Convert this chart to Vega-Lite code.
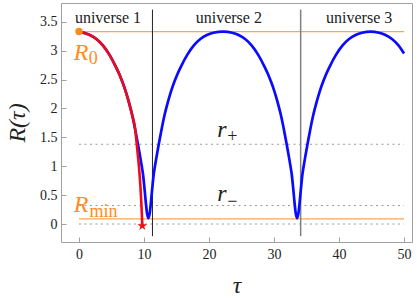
{
  "$schema": "https://vega.github.io/schema/vega-lite/v6.json",
  "width": 351,
  "height": 239,
  "autosize": "none",
  "padding": {"left": 61, "top": 3, "right": 5, "bottom": 56},
  "config": {
    "view": {"stroke": "#a0a0a0", "strokeWidth": 1},
    "font": "Liberation Serif, serif"
  },
  "datasets": {
    "blue": [
      {"tau": 0, "R": 3.33}, {"tau": 0.67, "R": 3.31}, {"tau": 1.67, "R": 3.27}, {"tau": 2.67, "R": 3.2}, {"tau": 3.67, "R": 3.09},
      {"tau": 4.67, "R": 2.93}, {"tau": 5.67, "R": 2.72}, {"tau": 6.17, "R": 2.6}, {"tau": 6.67, "R": 2.46}, {"tau": 7.17, "R": 2.3},
      {"tau": 7.67, "R": 2.11}, {"tau": 8.17, "R": 1.89}, {"tau": 8.67, "R": 1.62}, {"tau": 9.07, "R": 1.38}, {"tau": 9.37, "R": 1.19},
      {"tau": 9.67, "R": 0.99}, {"tau": 9.87, "R": 0.84}, {"tau": 10.07, "R": 0.62}, {"tau": 10.27, "R": 0.38}, {"tau": 10.47, "R": 0.18},
      {"tau": 10.67, "R": 0.1},
      {"tau": 10.87, "R": 0.18}, {"tau": 11.07, "R": 0.38}, {"tau": 11.27, "R": 0.62}, {"tau": 11.47, "R": 0.84}, {"tau": 11.67, "R": 0.99},
      {"tau": 11.97, "R": 1.19}, {"tau": 12.27, "R": 1.38}, {"tau": 12.67, "R": 1.62}, {"tau": 13.17, "R": 1.89}, {"tau": 13.67, "R": 2.11},
      {"tau": 14.17, "R": 2.3}, {"tau": 14.67, "R": 2.46}, {"tau": 15.17, "R": 2.6}, {"tau": 15.67, "R": 2.72}, {"tau": 16.67, "R": 2.93},
      {"tau": 17.67, "R": 3.09}, {"tau": 18.67, "R": 3.2}, {"tau": 19.67, "R": 3.27}, {"tau": 20.67, "R": 3.31}, {"tau": 22.2, "R": 3.33},
      {"tau": 23.55, "R": 3.31}, {"tau": 24.55, "R": 3.27}, {"tau": 25.55, "R": 3.2}, {"tau": 26.55, "R": 3.09}, {"tau": 27.55, "R": 2.93},
      {"tau": 28.55, "R": 2.72}, {"tau": 29.05, "R": 2.6}, {"tau": 29.55, "R": 2.46}, {"tau": 30.05, "R": 2.3}, {"tau": 30.55, "R": 2.11},
      {"tau": 31.05, "R": 1.89}, {"tau": 31.55, "R": 1.62}, {"tau": 31.95, "R": 1.38}, {"tau": 32.25, "R": 1.19}, {"tau": 32.55, "R": 0.99},
      {"tau": 32.75, "R": 0.84}, {"tau": 32.95, "R": 0.62}, {"tau": 33.15, "R": 0.38}, {"tau": 33.35, "R": 0.18}, {"tau": 33.55, "R": 0.1},
      {"tau": 33.75, "R": 0.18}, {"tau": 33.95, "R": 0.38}, {"tau": 34.15, "R": 0.62}, {"tau": 34.35, "R": 0.84}, {"tau": 34.55, "R": 0.99},
      {"tau": 34.85, "R": 1.19}, {"tau": 35.15, "R": 1.38}, {"tau": 35.55, "R": 1.62}, {"tau": 36.05, "R": 1.89}, {"tau": 36.55, "R": 2.11},
      {"tau": 37.05, "R": 2.3}, {"tau": 37.55, "R": 2.46}, {"tau": 38.05, "R": 2.6}, {"tau": 38.55, "R": 2.72}, {"tau": 39.55, "R": 2.93},
      {"tau": 40.55, "R": 3.09}, {"tau": 41.55, "R": 3.2}, {"tau": 42.55, "R": 3.27}, {"tau": 43.55, "R": 3.31}, {"tau": 44.85, "R": 3.33},
      {"tau": 46.15, "R": 3.31}, {"tau": 47.15, "R": 3.27}, {"tau": 48.15, "R": 3.2}, {"tau": 49.15, "R": 3.09}, {"tau": 50, "R": 2.95}
    ],
    "red": [
      {"tau": 0, "R": 3.33}, {"tau": 0.67, "R": 3.31}, {"tau": 1.67, "R": 3.27}, {"tau": 2.67, "R": 3.2}, {"tau": 3.67, "R": 3.09},
      {"tau": 4.67, "R": 2.93}, {"tau": 5.67, "R": 2.72}, {"tau": 6.17, "R": 2.6}, {"tau": 6.67, "R": 2.46}, {"tau": 7.17, "R": 2.3},
      {"tau": 7.67, "R": 2.11}, {"tau": 8.17, "R": 1.89}, {"tau": 8.67, "R": 1.62}, {"tau": 8.87, "R": 1.4}, {"tau": 9.07, "R": 1.17},
      {"tau": 9.27, "R": 0.93}, {"tau": 9.45, "R": 0.65}, {"tau": 9.58, "R": 0.38}, {"tau": 9.68, "R": 0.15}, {"tau": 9.74, "R": -0.03}
    ],
    "hgray": [
      {"tau": 0, "tau2": 50, "R": 1.38},
      {"tau": 0, "tau2": 50, "R": 0.32},
      {"tau": 0, "tau2": 50, "R": 0}
    ],
    "horange": [
      {"tau": 0, "tau2": 50, "R": 3.33},
      {"tau": 0, "tau2": 50, "R": 0.09}
    ],
    "vblack": [{"tau": 11.3, "R": -0.21, "R2": 3.71}],
    "vgray": [{"tau": 34.1, "R": -0.21, "R2": 3.71}],
    "dot": [{"tau": 0, "R": 3.33}],
    "star": [{"tau": 9.74, "R": -0.03}],
    "universe": [
      {"tau": 4.46, "R": 3.48, "label": "universe 1"},
      {"tau": 23.05, "R": 3.48, "label": "universe 2"},
      {"tau": 43.1, "R": 3.48, "label": "universe 3"}
    ],
    "bigItalicOrange": [
      {"tau": 0.3, "R": 2.84, "label": "R"},
      {"tau": 0.3, "R": 0.2, "label": "R"}
    ],
    "subOrange": [
      {"tau": 2.2, "R": 2.76, "label": "0"},
      {"tau": 3.75, "R": 0.12, "label": "min"}
    ],
    "bigItalicBlack": [
      {"tau": 22.0, "R": 1.51, "label": "r"},
      {"tau": 22.0, "R": 0.39, "label": "r"}
    ],
    "subBlack": [
      {"tau": 23.6, "R": 1.42, "label": "+"},
      {"tau": 23.6, "R": 0.3, "label": "−"}
    ]
  },
  "encoding": {
    "x": {
      "field": "tau", "type": "quantitative", "title": "τ",
      "scale": {"domain": [-2.77, 51.23], "nice": false, "zero": false},
      "axis": {"values": [0, 10, 20, 30, 40, 50], "grid": false, "domain": false, "tickSize": -5, "tickColor": "#a0a0a0",
        "labelFontSize": 14, "labelColor": "#222", "labelPadding": 10, "labelFont": "Liberation Serif, serif",
        "titleFont": "Liberation Serif, serif", "titleFontStyle": "italic", "titleFontWeight": "normal", "titleFontSize": 24, "titleColor": "#222", "titlePadding": 12}
    },
    "y": {
      "field": "R", "type": "quantitative", "title": "R(τ)",
      "scale": {"domain": [-0.311, 3.824], "nice": false, "zero": false},
      "axis": {"values": [0, 0.5, 1, 1.5, 2, 2.5, 3, 3.5], "format": "~g", "grid": false, "domain": false, "tickSize": -5, "tickColor": "#a0a0a0",
        "labelFontSize": 14, "labelColor": "#222", "labelPadding": 9, "labelFont": "Liberation Serif, serif",
        "titleFont": "Liberation Serif, serif", "titleFontStyle": "italic", "titleFontWeight": "normal", "titleFontSize": 24, "titleColor": "#222", "titlePadding": 10}
    }
  },
  "layer": [
    {"data": {"name": "hgray"}, "mark": {"type": "rule", "color": "#9a9a9a", "strokeWidth": 1, "strokeDash": [2, 3.5]},
      "encoding": {"x2": {"field": "tau2"}}},
    {"data": {"name": "horange"}, "mark": {"type": "rule", "color": "#ffa54a", "strokeWidth": 1.3},
      "encoding": {"x2": {"field": "tau2"}}},
    {"data": {"name": "vblack"}, "mark": {"type": "rule", "color": "#222222", "strokeWidth": 1},
      "encoding": {"y2": {"field": "R2"}}},
    {"data": {"name": "vgray"}, "mark": {"type": "rule", "color": "#808080", "strokeWidth": 1.5},
      "encoding": {"y2": {"field": "R2"}}},
    {"data": {"name": "blue"}, "mark": {"type": "line", "color": "#0a0aff", "strokeWidth": 2.7, "interpolate": "monotone"}, "encoding": {"order": {"field": "tau"}}},
    {"data": {"name": "red"}, "mark": {"type": "line", "color": "#ee0a1a", "strokeWidth": 2.6, "interpolate": "monotone"}, "encoding": {"order": {"field": "tau"}}},
    {"data": {"name": "dot"}, "mark": {"type": "point", "shape": "circle", "filled": true, "color": "#ff8c1a", "size": 55, "opacity": 1}},
    {"data": {"name": "star"}, "mark": {"type": "point", "filled": true, "color": "#ee1111", "opacity": 1, "size": 110,
      "shape": "M0,-1L0.2245,-0.309L0.9511,-0.309L0.3633,0.118L0.5878,0.809L0,0.382L-0.5878,0.809L-0.3633,0.118L-0.9511,-0.309L-0.2245,-0.309Z"}},
    {"data": {"name": "universe"}, "mark": {"type": "text", "align": "center", "baseline": "alphabetic", "fontSize": 16, "color": "#222", "font": "Liberation Serif, serif"},
      "encoding": {"text": {"field": "label"}}},
    {"data": {"name": "bigItalicOrange"}, "mark": {"type": "text", "align": "center", "baseline": "alphabetic", "fontSize": 24, "fontStyle": "italic", "color": "#ff8c1a", "font": "Liberation Serif, serif"},
      "encoding": {"text": {"field": "label"}}},
    {"data": {"name": "subOrange"}, "mark": {"type": "text", "align": "center", "baseline": "alphabetic", "fontSize": 18, "color": "#ff8c1a", "font": "Liberation Serif, serif"},
      "encoding": {"text": {"field": "label"}}},
    {"data": {"name": "bigItalicBlack"}, "mark": {"type": "text", "align": "center", "baseline": "alphabetic", "fontSize": 24, "fontStyle": "italic", "color": "#222", "font": "Liberation Serif, serif"},
      "encoding": {"text": {"field": "label"}}},
    {"data": {"name": "subBlack"}, "mark": {"type": "text", "align": "center", "baseline": "alphabetic", "fontSize": 18, "color": "#222", "font": "Liberation Serif, serif"},
      "encoding": {"text": {"field": "label"}}}
  ]
}
